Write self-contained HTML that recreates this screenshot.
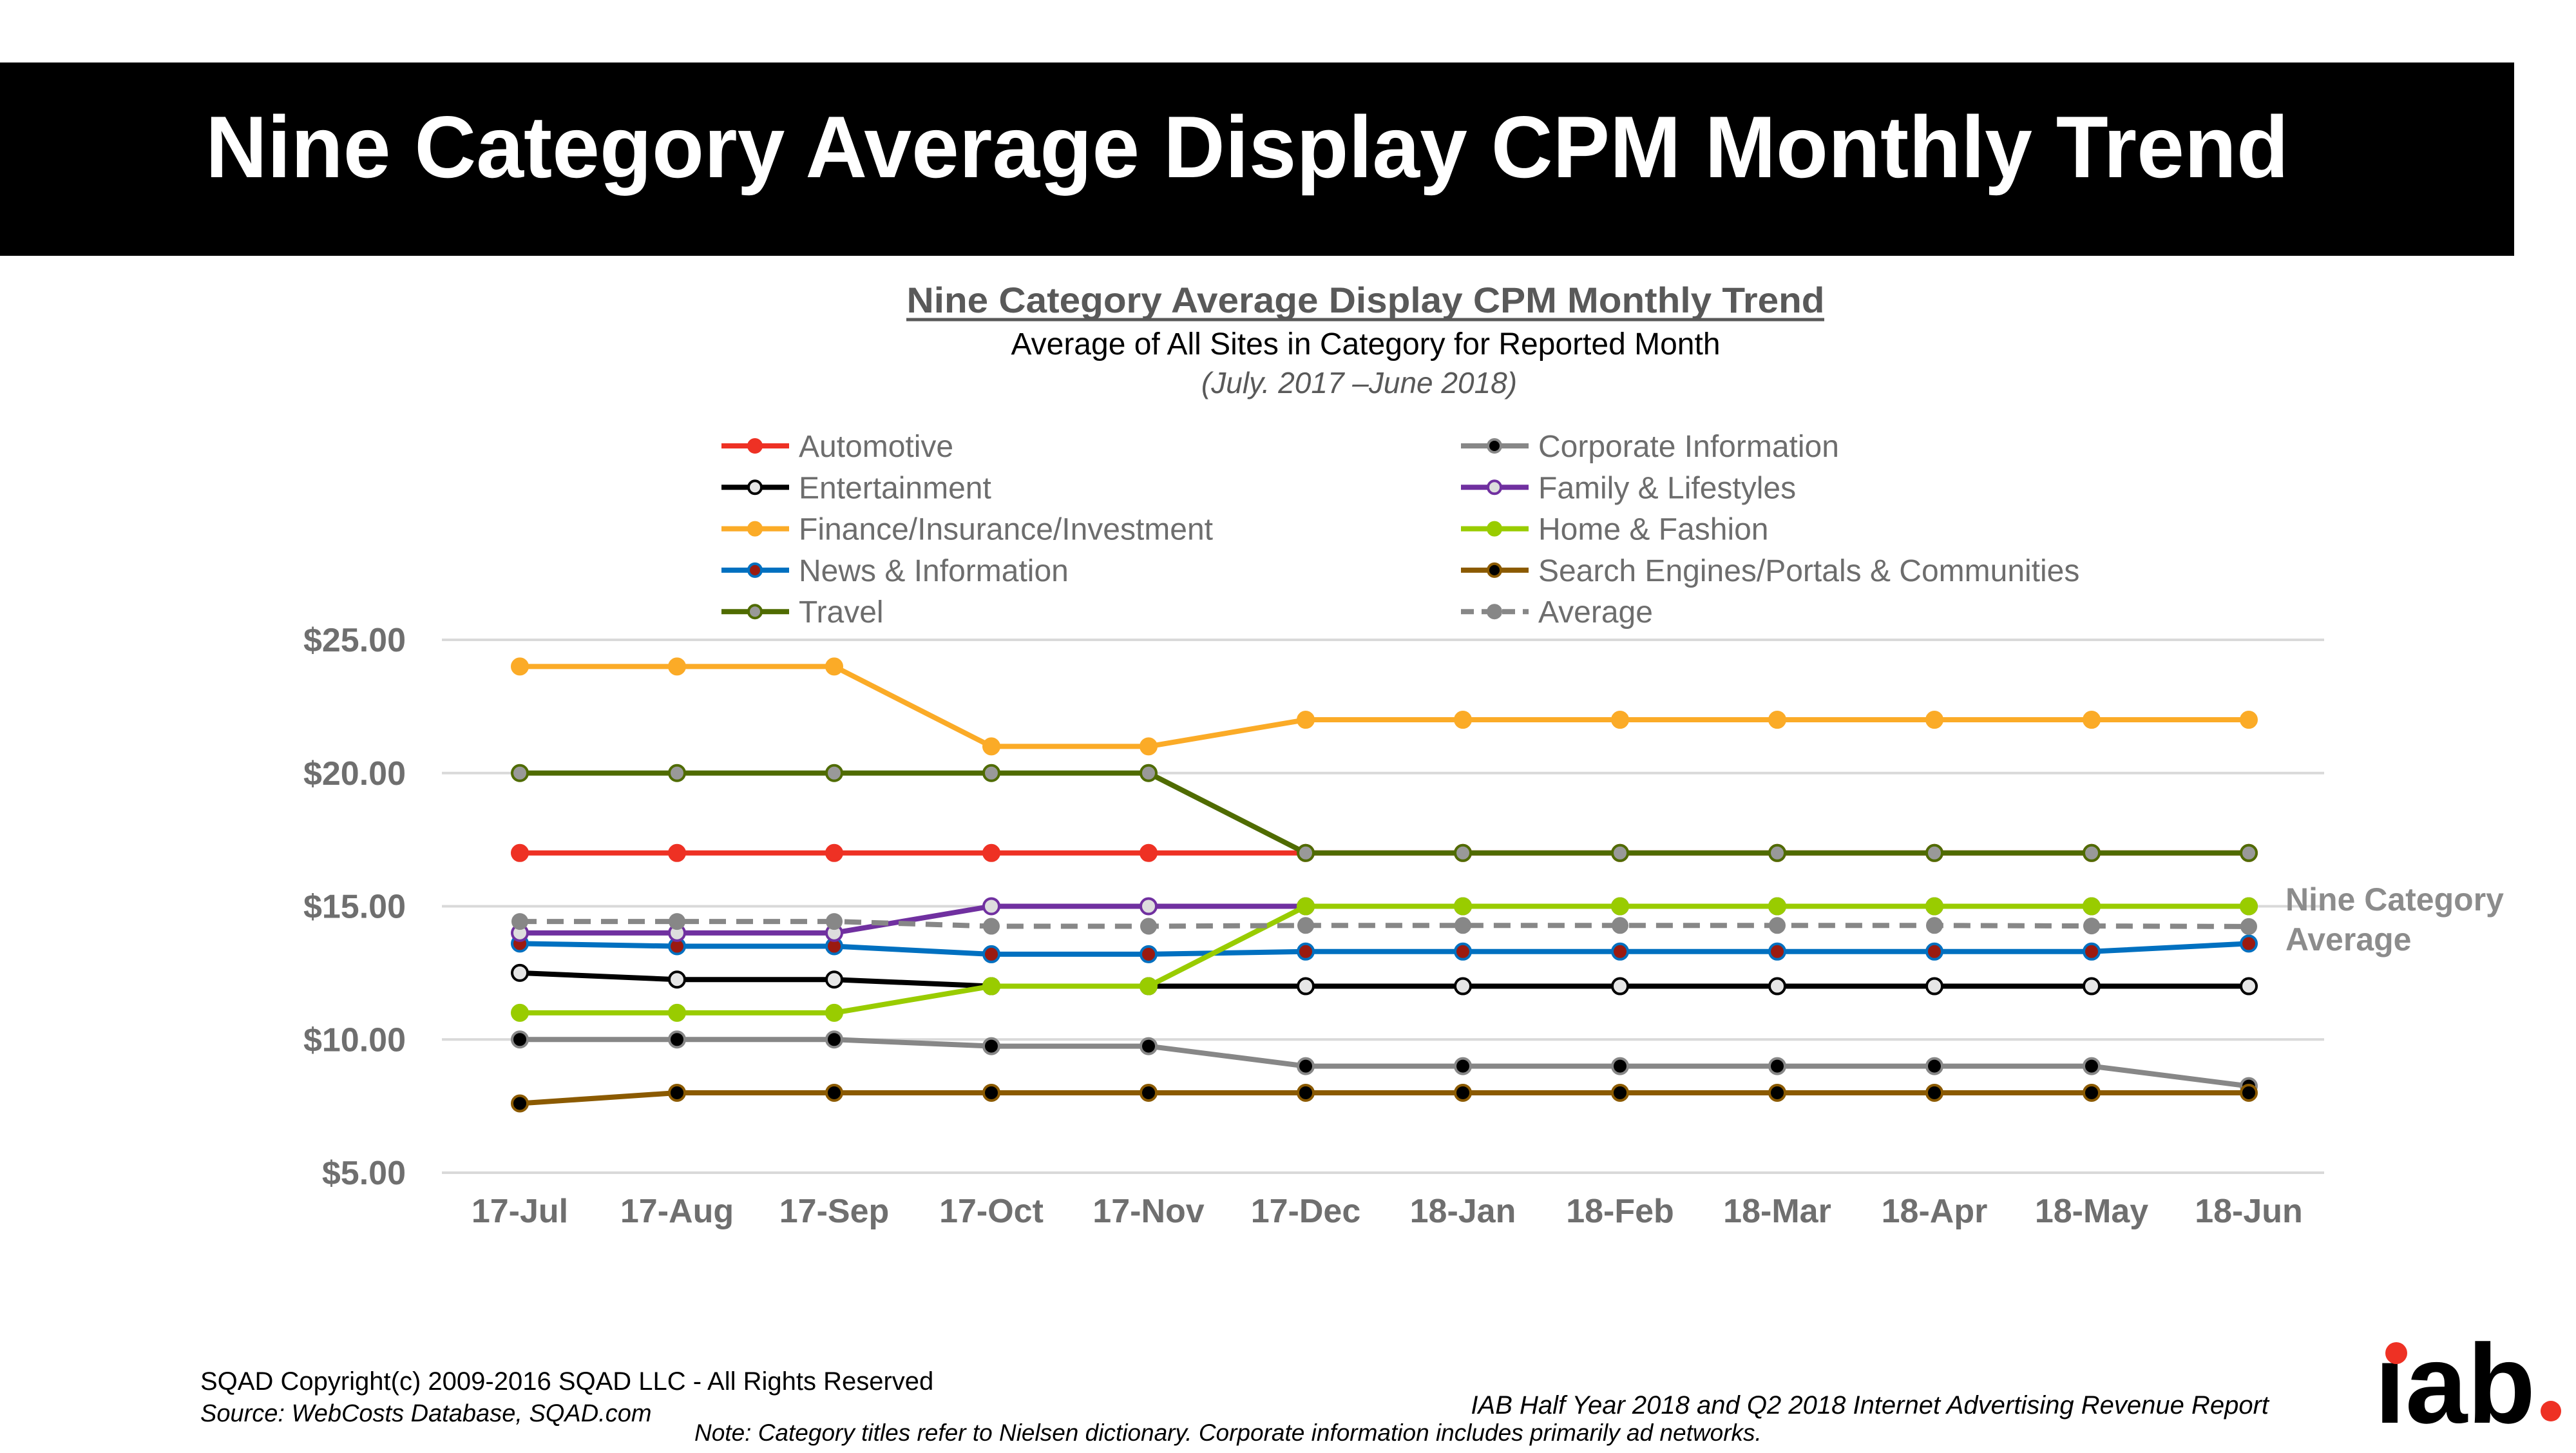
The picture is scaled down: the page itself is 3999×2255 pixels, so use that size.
<!DOCTYPE html>
<html><head><meta charset="utf-8"><style>
html,body{margin:0;padding:0;background:#fff;}
body{width:3999px;height:2250px;overflow:hidden;font-family:"Liberation Sans",Arial,sans-serif;}
</style></head><body>
<svg id="chart" width="3999" height="2250" xmlns="http://www.w3.org/2000/svg" font-family="Liberation Sans, Arial, sans-serif">
<rect x="0" y="97" width="3903" height="300" fill="#000"/>
<text x="1936" y="275" text-anchor="middle" font-size="136" font-weight="bold" fill="#fff" textLength="3234" lengthAdjust="spacingAndGlyphs">Nine Category Average Display CPM Monthly Trend</text>
<text x="2120" y="485" text-anchor="middle" font-size="56" font-weight="bold" fill="#595959" textLength="1425" lengthAdjust="spacingAndGlyphs">Nine Category Average Display CPM Monthly Trend</text>
<line x1="1407" y1="496" x2="2832" y2="496" stroke="#595959" stroke-width="5"/>
<text x="2120" y="550" text-anchor="middle" font-size="48" fill="#000">Average of All Sites in Category for Reported Month</text>
<text x="2110" y="610" text-anchor="middle" font-size="46" font-style="italic" fill="#595959">(July. 2017 –June 2018)</text>
<g id="grid"></g><g id="legend"></g><g id="series"></g>
<text font-size="50" font-weight="bold" fill="#8c8c8c"><tspan x="3548" y="1413">Nine Category</tspan><tspan x="3548" y="1475">Average</tspan></text>
<text x="311" y="2157" font-size="40" fill="#000">SQAD Copyright(c) 2009-2016  SQAD LLC - All Rights Reserved</text>
<text x="311" y="2206" font-size="38" font-style="italic" fill="#000">Source: WebCosts Database, SQAD.com</text>
<text x="3522" y="2194" text-anchor="end" font-size="40" font-style="italic" fill="#000">IAB Half Year 2018 and Q2 2018 Internet Advertising Revenue Report</text>
<text x="1078" y="2236" font-size="37" font-style="italic" fill="#000">Note: Category titles refer to Nielsen dictionary. Corporate information includes primarily ad networks.</text>
<g>
<text x="3686" y="2208" font-size="175" font-weight="bold" fill="#000" textLength="250" lengthAdjust="spacingAndGlyphs">ıab</text>
<circle cx="3720" cy="2100" r="17" fill="#ee3124"/>
<circle cx="3960" cy="2190" r="16" fill="#ee3124"/>
</g>
</svg>
<script>
const months = ["17-Jul","17-Aug","17-Sep","17-Oct","17-Nov","17-Dec","18-Jan","18-Feb","18-Mar","18-Apr","18-May","18-Jun"];
const yTicks = [5,10,15,20,25];
const automotive = [17,17,17,17,17,17,17,17,17,17,17,17];
const entertainment = [12.5,12.25,12.25,12,12,12,12,12,12,12,12,12];
const finance = [24,24,24,21,21,22,22,22,22,22,22,22];
const news = [13.6,13.5,13.5,13.2,13.2,13.3,13.3,13.3,13.3,13.3,13.3,13.6];
const travel = [20,20,20,20,20,17,17,17,17,17,17,17];
const corporate = [10,10,10,9.75,9.75,9,9,9,9,9,9,8.25];
const family = [14,14,14,15,15,15,15,15,15,15,15,15];
const home = [11,11,11,12,12,15,15,15,15,15,15,15];
const search = [7.6,8,8,8,8,8,8,8,8,8,8,8];
const average = [14.43,14.43,14.43,14.25,14.25,14.28,14.28,14.28,14.28,14.28,14.26,14.24];

const NS="http://www.w3.org/2000/svg";
const xs=i=>807+i*244;
const ys=v=>993+(25-v)*41.35;
function mk(tag,attrs,parent){const e=document.createElementNS(NS,tag);for(const k in attrs)e.setAttribute(k,attrs[k]);parent.appendChild(e);return e;}
const grid=document.getElementById('grid');
yTicks.forEach(t=>{
  const l=mk('line',{x1:686,x2:3608,y1:ys(t),y2:ys(t),stroke:'#d9d9d9','stroke-width':4},grid);
  
  
  const tx=mk('text',{x:630,y:ys(t)+18,'text-anchor':'end','font-size':52,'font-weight':'bold',fill:'#6f6f6f'},grid);
  tx.textContent='$'+t.toFixed(2);
  
  
});
months.forEach((m,i)=>{
  const tx=mk('text',{x:xs(i),y:1897,'text-anchor':'middle','font-size':52,'font-weight':'bold',fill:'#6f6f6f'},grid);
  tx.textContent=m;
  
  
});
const series=[
 {n:'Automotive',d:automotive,c:'#ee3124',f:'#ee3124',col:0,row:0},
 {n:'Entertainment',d:entertainment,c:'#000',f:'#e6e6e6',col:0,row:1},
 {n:'Finance/Insurance/Investment',d:finance,c:'#fbab27',f:'#fbab27',col:0,row:2},
 {n:'News & Information',d:news,c:'#0070c0',f:'#9b1a10',col:0,row:3},
 {n:'Travel',d:travel,c:'#4f6b00',f:'#999',col:0,row:4},
 {n:'Corporate Information',d:corporate,c:'#878787',f:'#000',col:1,row:0},
 {n:'Family & Lifestyles',d:family,c:'#7030a0',f:'#ddd',col:1,row:1},
 {n:'Home & Fashion',d:home,c:'#99cc00',f:'#99cc00',col:1,row:2},
 {n:'Search Engines/Portals & Communities',d:search,c:'#8b5a00',f:'#000',col:1,row:3},
 {n:'Average',d:average,c:'#878787',f:'#878787',col:1,row:4,dash:true}
];
const sg=document.getElementById('series'), lg=document.getElementById('legend');
series.forEach(s=>{
  const slug=s.n.toLowerCase().replace(/[^a-z]+/g,'-');
  const g=mk('g',{},sg);
  
  
  const pl=mk('polyline',{points:s.d.map((v,i)=>xs(i)+','+ys(v)).join(' '),fill:'none',stroke:s.c,'stroke-width':8,'stroke-linejoin':'round'},g);
  if(s.dash){pl.setAttribute('stroke-dasharray','26 16');}
  
  
  s.d.forEach((v,i)=>{
    const c=mk('circle',{cx:xs(i),cy:ys(v),r:s.dash?11:12,fill:s.f,stroke:s.c,'stroke-width':4},g);
    
    
  });
  const lx=s.col?2268:1120, ly=692+s.row*64.3;
  const le=mk('g',{},lg);
  
  
  const ll=mk('line',{x1:lx,x2:lx+105,y1:ly,y2:ly,stroke:s.c,'stroke-width':8},le);
  if(s.dash)ll.setAttribute('stroke-dasharray','20 12');
  mk('circle',{cx:lx+52,cy:ly,r:10,fill:s.f,stroke:s.c,'stroke-width':4},le);
  const t=mk('text',{x:lx+120,y:ly+17,'font-size':48,fill:'#6d6d6d'},le);
  t.textContent=s.n;
});
</script>
</body></html>
